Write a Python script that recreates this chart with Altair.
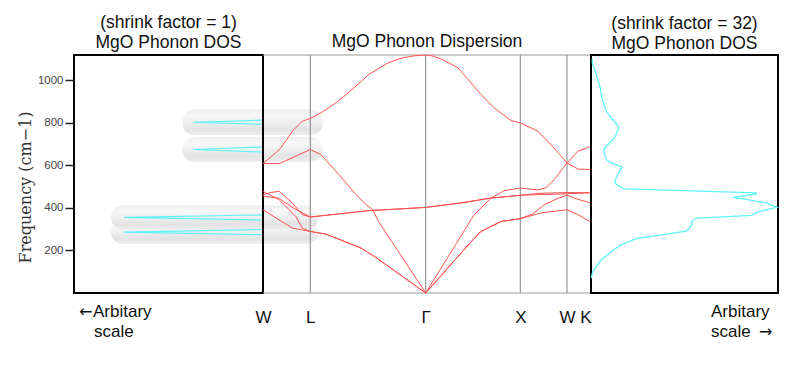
import altair as alt
import pandas as pd

F_MAX = 1118
FONT = "Liberation Sans"
ARROW_FONT = "DejaVu Sans"
RED = "#ff5252"
CYAN = "#5ff2f7"

# ---- k-path (positions along the dispersion panel) ----
kpoint_pos = [0, 47.3, 162.7, 257.3, 304, 328]
kpoint_lab = ["W", "L", "Γ", "X", "W", "K"]

# ---- dispersion branches (k position, frequency cm-1) ----
lo_x = [0, 8, 16, 24, 29.3, 39.3, 47.3, 58, 75, 90, 106, 125, 140, 151, 162.7, 170, 181, 195, 208, 218, 231, 248, 257.3, 275, 291, 304, 315, 328]
lo_f = [608, 640, 672, 722, 760, 807, 820, 846, 900, 960, 1027, 1081, 1105, 1114, 1118, 1113, 1093, 1058, 987, 932, 870, 810, 799, 760, 681, 611, 582, 580]

la_x = [0, 16.7, 30, 47.3, 58, 76, 93, 103, 110, 115, 162.7, 208, 211.3, 228, 241.3, 257.3, 275, 283, 291.3, 304, 315, 328]
la_f = [608, 608, 637, 674, 650, 556, 462, 415, 390, 340, 0, 344, 368, 446, 481, 493, 484, 495, 533, 611, 666, 689]

to1_x = [0, 8, 16, 29.3, 39.3, 47.3, 106, 162.7, 198, 228, 257.3, 275, 304, 328]
to1_f = [462, 472, 478, 423, 368, 357, 387, 402, 423, 446, 459, 468, 472, 471]

to2_x = [0, 16, 30, 47.3, 106, 162.7, 198, 228, 257.3, 275, 304, 328]
to2_f = [455, 445, 400, 357, 387, 402, 423, 446, 459, 462, 466, 471]

ta1_x = [0, 16, 32.7, 39.3, 47.3, 62.7, 80, 98, 111.3, 162.7, 175, 190, 198, 208, 218, 238, 257.3, 278, 304, 315, 328]
ta1_f = [477, 439, 360, 305, 289, 277, 245, 211, 172, 0, 65, 145, 187, 240, 289, 336, 349, 376, 391, 368, 333]

ta2_x = [0, 16, 29.3, 47.3, 62.7, 80, 98, 111.3, 162.7, 175, 190, 198, 208, 218, 238, 257.3, 270, 281.3, 295, 304, 315, 328]
ta2_f = [391, 344, 305, 289, 277, 245, 211, 172, 0, 65, 145, 187, 240, 289, 336, 349, 372, 415, 445, 459, 440, 423]

# ---- left DOS (shrink factor = 1): peaks (freq, height, half-width) ----
peak_f = [286, 355, 674, 802]
peak_h = [2.0, 2.0, 1.0, 1.0]
peak_w = [12, 12, 12, 10]
# highlight pills around the peaks (x extents in DOS units, reaching past the panel edge)
pill_f = [286, 355, 674, 802]
pill_left = [2.19, 2.19, 1.16, 1.16]
pill_right = [-0.80, -0.80, -0.86, -0.86]
pill_half = [56, 56, 58, 60]

# ---- right DOS (shrink factor = 32) ----
r_f = [1100, 1081, 1027, 964, 930, 899, 854, 823, 779, 729, 681, 666, 627, 611, 591, 559, 535, 517, 500, 489,
       470, 465, 449, 440, 423, 402, 384, 365, 352, 333, 321, 290, 255, 224, 188, 156, 125, 94, 70]
r_dos = [1.3, 1.3, 5.3, 9.3, 10.3, 12, 15.3, 20.3, 28, 23.7, 13.7, 12.7, 15.3, 20.3, 31.3, 27, 24.7, 23.7, 28.3, 33.7,
         165, 165.3, 142, 155, 175.3, 186, 168.7, 160.3, 105.3, 100.3, 101.3, 95.3, 45.3, 29, 18.7, 10.3, 5.3, 1.3, 0.3]

# ---- texts ----
y_ticks = [200, 400, 600, 800, 1000]
left_title = ["(shrink factor = 1)", "MgO Phonon DOS"]
mid_title = ["\u00a0", "MgO Phonon Dispersion"]
right_title = ["(shrink factor = 32)", "MgO Phonon DOS"]
# caption pieces: (text, is_arrow, line)
left_caption = [("←", True, 0), ("Arbitary", False, 0), ("scale", False, 1)]
right_caption = [("Arbitary", False, 0), ("scale", False, 1), ("→", True, 1)]

# ---------------- data tables ----------------
branches = {"LO": (lo_x, lo_f), "LA": (la_x, la_f), "TO1": (to1_x, to1_f),
            "TO2": (to2_x, to2_f), "TA1": (ta1_x, ta1_f), "TA2": (ta2_x, ta2_f)}
rows = []
for name, (xs, fs) in branches.items():
    for i, (x, f) in enumerate(zip(xs, fs)):
        rows.append({"branch": name, "k": x, "f": f, "i": i})
disp = pd.DataFrame(rows)

spike_rows = []
for p, (f, h, w) in enumerate(zip(peak_f, peak_h, peak_w)):
    spike_rows += [{"peak": p, "i": 0, "f": f - w, "dos": 0},
                   {"peak": p, "i": 1, "f": f, "dos": h},
                   {"peak": p, "i": 2, "f": f + w, "dos": 0}]
spikes = pd.DataFrame(spike_rows)

pills = pd.DataFrame({"f0": [f - h for f, h in zip(pill_f, pill_half)],
                      "f1": [f + h for f, h in zip(pill_f, pill_half)],
                      "x0": pill_left, "x1": pill_right})

rdos = pd.DataFrame({"f": r_f, "dos": r_dos, "i": list(range(len(r_f)))})
one = pd.DataFrame({"a": [0]})

H = 238
yscale = alt.Scale(domain=[0, F_MAX], nice=False, zero=False)


def ttl(lines):
    return alt.TitleParams(text=lines, font=FONT, fontSize=17.5, fontWeight="normal", color="#111",
                           offset=3, lineHeight=20, anchor="middle")


def caption(pieces, dx):
    out = []
    for (t, arrow, line), x in zip(pieces, dx):
        out.append(alt.Chart(one).mark_text(font=ARROW_FONT if arrow else FONT, fontSize=16 if arrow else 17,
                                            color="#111", align="left", baseline="alphabetic").encode(
            x=alt.value(x), y=alt.value(H + 24 + 19.5 * line), text=alt.value(t)))
    return out


# ---------------- left panel ----------------
xl = alt.Scale(domain=[0, 2.72], reverse=True, nice=False, zero=False)
yaxis = alt.Axis(values=y_ticks, format="d", title="Frequency (cm−1)", titleFont="DejaVu Serif",
                 titleFontSize=16, titleFontWeight="normal", titleColor="#333", titleY=132,
                 labelFont=FONT, labelFontSize=11.5, labelColor="#444", tickSize=9, tickColor="#222",
                 tickWidth=1.5, labelPadding=2, titlePadding=4, domain=False, grid=False)

pill_fill = alt.LinearGradient(
    gradient="linear", x1=0, x2=0, y1=0, y2=1,
    stops=[alt.GradientStop(color="#ececec", offset=0),
           alt.GradientStop(color="#f7f7f7", offset=0.22),
           alt.GradientStop(color="#f0f0f0", offset=0.45),
           alt.GradientStop(color="#e2e2e2", offset=0.78),
           alt.GradientStop(color="#ececec", offset=1)])

pill_layer = alt.Chart(pills).mark_rect(cornerRadius=12, fill=pill_fill, opacity=0.95).encode(
    x=alt.X("x0:Q", scale=xl, axis=None), x2="x1:Q",
    y=alt.Y("f0:Q", scale=yscale, axis=yaxis), y2="f1:Q")
spike_layer = alt.Chart(spikes).mark_line(color=CYAN, strokeWidth=1.2).encode(
    x=alt.X("dos:Q", scale=xl), y=alt.Y("f:Q", scale=yscale), detail="peak:N", order="i:Q")
edge_layer = alt.Chart(one).mark_rule(color="black", strokeWidth=2).encode(
    x=alt.datum(0, scale=xl))

left = alt.layer(pill_layer, spike_layer, edge_layer, *caption(left_caption, [5, 19, 20])).properties(
    width=189, height=H, title=ttl(left_title),
    view=alt.ViewBackground(stroke="black", strokeWidth=2))

# ---------------- middle panel ----------------
expr = ""
for p, lab in zip(kpoint_pos, kpoint_lab):
    expr += f"abs(datum.value - {p}) < 0.5 ? '{lab}' : "
expr += "''"
mid_xaxis = alt.Axis(values=kpoint_pos, labelExpr=expr, title=None, ticks=False, tickSize=0, domain=False,
                     grid=False, labelFont=FONT, labelFontSize=17, labelColor="#111", labelPadding=16,
                     labelAlign={"condition": {"test": "datum.value > 320", "value": "right"}, "value": "center"})
xm = alt.Scale(domain=[0, 328], nice=False, zero=False)

vrules = alt.Chart(pd.DataFrame({"k": kpoint_pos[1:-1]})).mark_rule(color="#8c8c8c", strokeWidth=1.1).encode(
    x=alt.X("k:Q", scale=xm, axis=mid_xaxis))
frame = alt.Chart(pd.DataFrame({"f": [0, F_MAX]})).mark_rule(color="#9a9a9a", strokeWidth=1).encode(
    y=alt.Y("f:Q", scale=yscale, axis=None))
lines = alt.Chart(disp).mark_line(color=RED, strokeWidth=1).encode(
    x=alt.X("k:Q", scale=xm), y=alt.Y("f:Q", scale=yscale, axis=None), detail="branch:N", order="i:Q")

mid = alt.layer(vrules, frame, lines).properties(
    width=328, height=H, title=ttl(mid_title),
    view=alt.ViewBackground(stroke="transparent"))

# ---------------- right panel ----------------
right_line = alt.Chart(rdos).mark_line(color=CYAN, strokeWidth=1.3).encode(
    x=alt.X("dos:Q", scale=alt.Scale(domain=[0, 187], nice=False, zero=False), axis=None),
    y=alt.Y("f:Q", scale=yscale, axis=None), order="i:Q")
right = alt.layer(right_line, *caption(right_caption, [120, 120, 168])).properties(
    width=187, height=H, title=ttl(right_title),
    view=alt.ViewBackground(stroke="black", strokeWidth=2))

chart = alt.hconcat(left, mid, right, spacing=0, bounds="flush").properties(
    padding={"left": 8, "top": 4, "right": 5, "bottom": 5})

chart.save("out.html", embed_options={"renderer": "svg", "actions": False})
